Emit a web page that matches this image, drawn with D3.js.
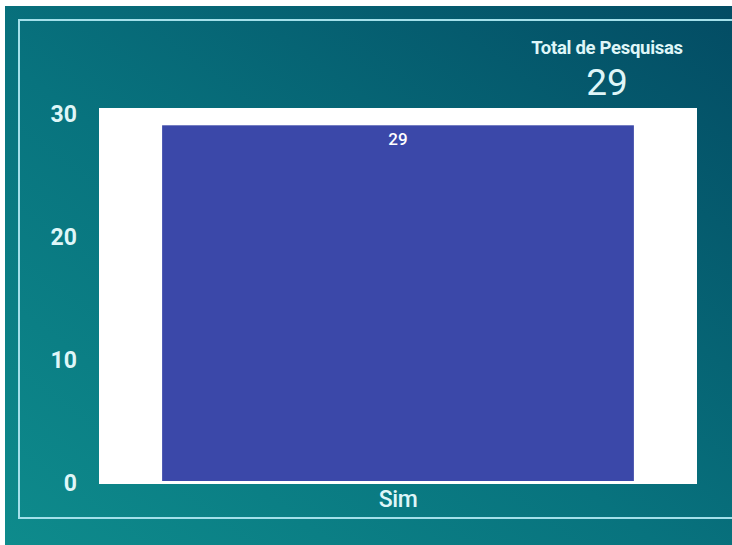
<!DOCTYPE html>
<html>
<head>
<meta charset="utf-8">
<script src="https://cdn.jsdelivr.net/npm/d3@7"></script>
<style>
  html, body { margin: 0; padding: 0; background: #ffffff; }
  svg { display: block; }
</style>
</head>
<body>
<script>
// data
var categories = ["Sim"];
var values = [29];
var y_ticks = [0, 10, 20, 30];
var kpi_title = "Total de Pesquisas";
var kpi_value = 29;

var w = 732, h = 545;
var txt_color = "#dff6f8";

var svg = d3.select("body").append("svg")
  .attr("width", w).attr("height", h);

// background gradient (teal)
var defs = svg.append("defs");
var grad = defs.append("linearGradient").attr("id", "bg")
  .attr("x1", "0%").attr("y1", "100%").attr("x2", "100%").attr("y2", "0%");
grad.append("stop").attr("offset", "0%").attr("stop-color", "#0e8b8c");
grad.append("stop").attr("offset", "45%").attr("stop-color", "#08737e");
grad.append("stop").attr("offset", "100%").attr("stop-color", "#034c64");

svg.append("rect").attr("x", 0).attr("y", 0).attr("width", w).attr("height", h)
  .style("fill", "#ffffff");
svg.append("rect").attr("x", 5).attr("y", 6).attr("width", w - 5).attr("height", h - 6)
  .style("fill", "url(#bg)");

// frame
svg.append("rect").attr("x", 19).attr("y", 20).attr("width", w).attr("height", 498)
  .style("fill", "none").style("stroke", "#a3e0ea").style("stroke-width", 2);

// scales
var x = d3.scaleBand().domain(categories).range([99, 697]).padding(0.118);
var y = d3.scaleLinear().domain([0, 30]).range([482, 113]);

// plot background
svg.append("rect").attr("x", 99).attr("y", 108).attr("width", 598).attr("height", 376)
  .style("fill", "#ffffff");

// bars
svg.selectAll(".bar").data(values).enter().append("rect")
  .attr("class", "bar")
  .attr("x", function(d, i){ return x(categories[i]); })
  .attr("y", function(d){ return y(d); })
  .attr("width", x.bandwidth())
  .attr("height", function(d){ return y(0) - y(d) - 1; })
  .style("fill", "#3b48a9");

// bar labels
svg.selectAll(".blab").data(values).enter().append("text")
  .attr("x", function(d, i){ return x(categories[i]) + x.bandwidth()/2; })
  .attr("y", function(d){ return y(d) + 20; })
  .attr("text-anchor", "middle")
  .style("font-family", "Roboto").style("font-weight", 500).style("font-size", "17px")
  .style("fill", "#ffffff")
  .text(function(d){ return d; });

// y axis
var yAxis = svg.append("g").attr("transform", "translate(77,1)")
  .call(d3.axisLeft(y).tickValues(y_ticks).tickSize(0).tickPadding(0));
yAxis.select(".domain").remove();
yAxis.selectAll("text")
  .style("font-family", "Roboto").style("font-weight", 700).style("font-size", "23px")
  .style("fill", txt_color);

// x axis
var xAxis = svg.append("g").attr("transform", "translate(0,486)")
  .call(d3.axisBottom(x).tickSize(0).tickPadding(5));
xAxis.select(".domain").remove();
xAxis.selectAll("text")
  .style("font-family", "Roboto").style("font-weight", 500).style("font-size", "23px")
  .style("letter-spacing", "-0.5px")
  .style("fill", txt_color);

// KPI card
svg.append("text").attr("x", 607).attr("y", 54).attr("text-anchor", "middle")
  .style("font-family", "Roboto").style("font-weight", 700).style("font-size", "18.5px")
  .style("letter-spacing", "-0.3px")
  .style("fill", txt_color).text(kpi_title);
svg.append("text").attr("x", 607).attr("y", 95).attr("text-anchor", "middle")
  .style("font-family", "Roboto").style("font-weight", 400).style("font-size", "37px")
  .style("fill", txt_color).text(kpi_value);
</script>
</body>
</html>
